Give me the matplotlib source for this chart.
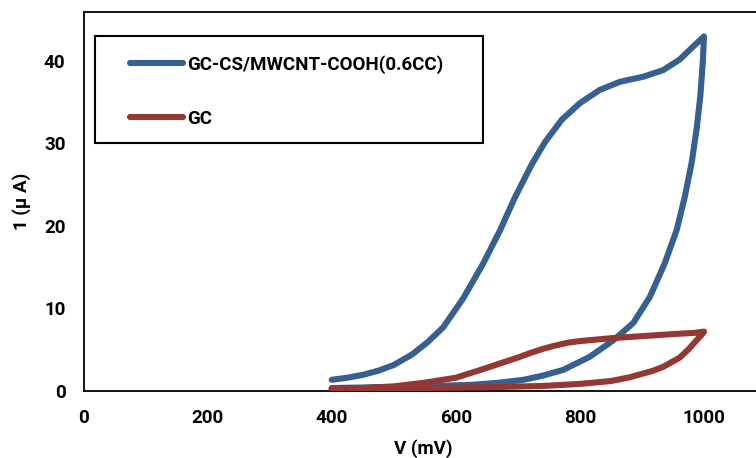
import matplotlib
matplotlib.use("Agg")
import matplotlib.pyplot as plt
from matplotlib.lines import Line2D
from matplotlib.patches import Rectangle

plt.rcParams['font.family'] = ['Roboto', 'DejaVu Sans']
plt.rcParams['font.weight'] = 'bold'

# Data (V in mV, I in µA)
blue_label = "GC-CS/MWCNT-COOH(0.6CC)"
red_label = "GC"

blue_fwd_v = [400, 425, 450, 475, 500, 530, 555, 580, 612, 644, 671, 695, 722, 744, 771, 800, 832, 865, 902, 934, 961, 983, 1000]
blue_fwd_i = [1.3, 1.55, 1.9, 2.4, 3.1, 4.4, 5.9, 7.7, 11.2, 15.4, 19.4, 23.4, 27.4, 30.2, 32.9, 34.9, 36.5, 37.5, 38.1, 38.9, 40.2, 41.8, 43.0]
blue_rev_v = [998, 994, 988, 980, 969, 956, 937, 913, 886, 854, 816, 773, 740, 709, 670, 628, 550, 480, 400]
blue_rev_i = [39.8, 35.7, 31.7, 27.6, 23.5, 19.5, 15.5, 11.4, 8.2, 6.1, 4.1, 2.5, 1.8, 1.3, 0.95, 0.7, 0.5, 0.4, 0.3]

red_fwd_v = [400, 450, 500, 550, 600, 640, 680, 700, 720, 740, 760, 780, 800, 850, 900, 950, 985, 1000]
red_fwd_i = [0.2, 0.3, 0.5, 0.95, 1.55, 2.5, 3.5, 4.0, 4.55, 5.05, 5.45, 5.8, 6.0, 6.35, 6.6, 6.85, 7.0, 7.15]
red_rev_v = [996, 988, 975, 961, 935, 918, 880, 850, 800, 740, 650, 600, 500, 400]
red_rev_i = [6.75, 6.1, 5.0, 4.0, 2.9, 2.4, 1.6, 1.15, 0.8, 0.55, 0.4, 0.35, 0.25, 0.2]

x_ticks = [0, 200, 400, 600, 800, 1000]
y_ticks = [0, 10, 20, 30, 40]

blue_color = "#366092"
red_color = "#953735"

W, H = 756, 458
fig = plt.figure(figsize=(W / 100, H / 100), dpi=100)

left_px, bottom_px, top_px = 83.5, 390.5, 11.7
x_max = 1200
px_per_mv = 0.6205
ax = fig.add_axes([left_px / W, (H - bottom_px) / H,
                   x_max * px_per_mv / W, (bottom_px - top_px) / H])

lw = 4.4
ax.plot(blue_fwd_v + blue_rev_v, blue_fwd_i + blue_rev_i, color=blue_color,
        lw=lw, solid_capstyle='round', solid_joinstyle='round', zorder=3)
ax.plot(red_fwd_v + red_rev_v, red_fwd_i + red_rev_i, color=red_color,
        lw=lw, solid_capstyle='round', solid_joinstyle='round', zorder=4)

fs = 13.5
ax.set_xlim(0, x_max)
ax.set_ylim(0, 46)
ax.set_xticks(x_ticks)
ax.set_yticks(y_ticks)
ax.tick_params(length=0, labelsize=fs)
ax.tick_params(axis='x', pad=13)
ax.tick_params(axis='y', pad=13)
for lab in ax.get_xticklabels() + ax.get_yticklabels():
    lab.set_fontweight('bold')
for s in ax.spines.values():
    s.set_linewidth(1.3)
    s.set_color('black')

fig.text(22 / W, 1 - 201 / H, "1 (μ A)", rotation=90, ha='center', va='center',
         fontsize=fs, fontweight='bold')
fig.text(423 / W, 1 - 439 / H, "V (mV)", ha='center', va='top',
         fontsize=fs, fontweight='bold')

# Legend box
x0, y0, x1, y1 = 95, 36, 483, 143
fig.patches.append(Rectangle((x0 / W, 1 - y1 / H), (x1 - x0) / W, (y1 - y0) / H,
                             transform=fig.transFigure, fill=True, facecolor='white',
                             edgecolor='black', lw=1.5, zorder=5))
for yrow, col, lab in [(63, blue_color, blue_label), (117, red_color, red_label)]:
    fig.lines.append(Line2D([130 / W, 183 / W], [1 - yrow / H, 1 - yrow / H],
                            transform=fig.transFigure, color=col, lw=lw,
                            solid_capstyle='round', zorder=6))
    fig.text(187 / W, 1 - yrow / H, lab, ha='left', va='center_baseline',
             fontsize=fs, fontweight='bold', zorder=7)

fig.savefig("out.png", dpi=100)
